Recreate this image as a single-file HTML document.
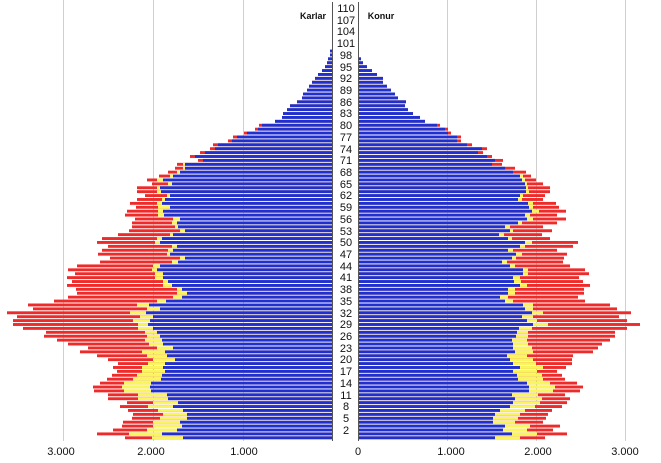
<!DOCTYPE html>
<html><head><meta charset="utf-8">
<style>
html,body{margin:0;padding:0;background:#fff;width:661px;height:463px;overflow:hidden}
svg{display:block}
text{font-family:"Liberation Sans",sans-serif;fill:#111}
</style></head>
<body>
<svg id="s" width="661" height="463" viewBox="0 0 661 463" xmlns="http://www.w3.org/2000/svg">
<g stroke="#cfcfcf" stroke-width="1">
<line x1="63.5" y1="0" x2="63.5" y2="441"/>
<line x1="153.5" y1="0" x2="153.5" y2="441"/>
<line x1="243.5" y1="0" x2="243.5" y2="441"/>
<line x1="447.5" y1="0" x2="447.5" y2="441"/>
<line x1="536.5" y1="0" x2="536.5" y2="441"/>
<line x1="625.5" y1="0" x2="625.5" y2="441"/>
</g>
<g id="bars"></g>
<g stroke="#555" stroke-width="1">
<line x1="332.5" y1="2" x2="332.5" y2="441"/>
<line x1="358.5" y1="2" x2="358.5" y2="441"/>
</g>
<text x="313" y="19" font-size="9" font-weight="bold" text-anchor="middle">Karlar</text>
<text x="381" y="19" font-size="9" font-weight="bold" text-anchor="middle">Konur</text>
<g font-size="11" text-anchor="middle">
<text x="346" y="434">2</text>
<text x="346" y="422">5</text>
<text x="346" y="410">8</text>
<text x="346" y="399">11</text>
<text x="346" y="387">14</text>
<text x="346" y="375">17</text>
<text x="346" y="363">20</text>
<text x="346" y="352">23</text>
<text x="346" y="340">26</text>
<text x="346" y="328">29</text>
<text x="346" y="317">32</text>
<text x="346" y="305">35</text>
<text x="346" y="293">38</text>
<text x="346" y="281">41</text>
<text x="346" y="270">44</text>
<text x="346" y="258">47</text>
<text x="346" y="246">50</text>
<text x="346" y="235">53</text>
<text x="346" y="223">56</text>
<text x="346" y="211">59</text>
<text x="346" y="199">62</text>
<text x="346" y="188">65</text>
<text x="346" y="176">68</text>
<text x="346" y="164">71</text>
<text x="346" y="153">74</text>
<text x="346" y="141">77</text>
<text x="346" y="129">80</text>
<text x="346" y="117">83</text>
<text x="346" y="106">86</text>
<text x="346" y="94">89</text>
<text x="346" y="82">92</text>
<text x="346" y="71">95</text>
<text x="346" y="59">98</text>
<text x="346" y="47">101</text>
<text x="346" y="35">104</text>
<text x="346" y="24">107</text>
<text x="346" y="12">110</text>
</g>
<g font-size="11" text-anchor="middle">
<text x="61" y="455">3.000</text>
<text x="151" y="455">2.000</text>
<text x="244" y="455">1.000</text>
<text x="358" y="455">0</text>
<text x="451" y="455">1.000</text>
<text x="538" y="455">2.000</text>
<text x="625" y="455">3.000</text>
</g>
</svg>
<script>
var L=[[183,152,125],[162,129,97],[177,147,113],[182,153,122],[180,153,123],[187,160,132],[187,163,133],[183,158,128],[173,148,120],[178,153,127],[168,138,108],[167,138,108],[151,124,94],[150,122,93],[151,124,100],[161,133,107],[162,137,112],[165,142,117],[163,142,113],[165,148,118],[175,153,108],[167,147,97],[165,142,80],[173,157,88],[163,149,68],[162,145,57],[160,147,44],[157,145,46],[153,138,23],[148,138,13],[150,133,13],[153,140,17],[146,130,7],[160,147,33],[149,137,28],[166,157,54],[182,173,68],[187,177,77],[182,177,76],[172,163,67],[168,163,72],[163,155,67],[163,155,75],[157,152,68],[160,153,77],[178,172,100],[185,180,110],[170,167,98],[173,168,102],[177,172,108],[160,155,97],[162,157,102],[173,170,118],[185,180,129],[178,175,132],[177,172,132],[180,173,135],[164,158,125],[163,158,127],[170,158,136],[162,157,130],[165,162,137],[170,167,145],[161,157,137],[160,157,137],[172,168,152],[163,157,147],[173,170,159],[180,177,168],[185,183,175],[185,183,177],[203,203,198],[195,195,190],[205,205,200],[215,215,210],[218,218,213],[232,232,228],[237,237,233],[247,247,244],[258,258,255],[262,262,259]];
var lb=[275,282,283,287,290,297,302,303,307,309,312,315,318,322,325,327,328,330,330,332];
lb.forEach(function(b){L.push([b,b,b]);});
var R=[[495,520,545],[512,537,567],[503,527,553],[505,530,560],[493,515,543],[493,518,546],[495,520,548],[500,525,552],[510,535,562],[513,540,567],[515,542,570],[512,538,565],[529,553,580],[529,555,583],[527,550,577],[518,543,565],[517,542,562],[513,537,557],[520,543,566],[513,536,572],[510,533,572],[507,527,573],[515,533,593],[513,532,598],[513,528,602],[512,527,610],[516,528,615],[517,528,615],[519,532,627],[533,548,640],[527,537,627],[522,533,619],[532,543,631],[525,533,617],[523,533,610],[505,513,585],[500,508,578],[508,515,584],[508,515,584],[520,527,590],[514,521,583],[513,520,579],[523,528,589],[523,528,585],[510,515,570],[502,507,563],[512,516,564],[516,522,567],[508,513,557],[520,525,573],[525,532,578],[508,512,550],[499,504,542],[510,513,552],[505,510,543],[518,522,557],[527,533,566],[525,530,557],[532,539,566],[529,533,559],[528,533,556],[518,522,543],[520,523,545],[526,529,550],[526,528,550],[525,527,543],[522,525,536],[520,523,531],[513,513,526],[505,505,515],[492,492,502],[495,495,503],[487,487,492],[478,478,483],[482,482,487],[467,467,472],[457,457,461],[457,457,461],[448,448,451],[445,445,448],[437,437,440]];
var rb=[425,420,413,408,405,406,398,395,391,387,383,383,377,372,367,363,361,359,359,358];
rb.forEach(function(b){R.push([b,b,b]);});
var NS="http://www.w3.org/2000/svg",g=document.getElementById("bars");
function rect(x1,x2,y,c){if(x2-x1<=0)return;var r=document.createElementNS(NS,"rect");r.setAttribute("x",x1);r.setAttribute("width",x2-x1);r.setAttribute("y",y);r.setAttribute("height",2.9);r.setAttribute("fill",c);g.appendChild(r);}
var RED="#ee2b2b",YEL="#f8f65c",BLU="#1f2fd2";
for(var a=0;a<L.length;a++){
 var y=437.8-3.907*a-1.45;
 var l=L[a];rect(l[2],333,y,RED);rect(l[1],333,y,YEL);rect(l[0],333,y,BLU);
 var r=R[a];rect(358,r[2],y,RED);rect(358,r[1],y,YEL);rect(358,r[0],y,BLU);
}
</script>
</body></html>
